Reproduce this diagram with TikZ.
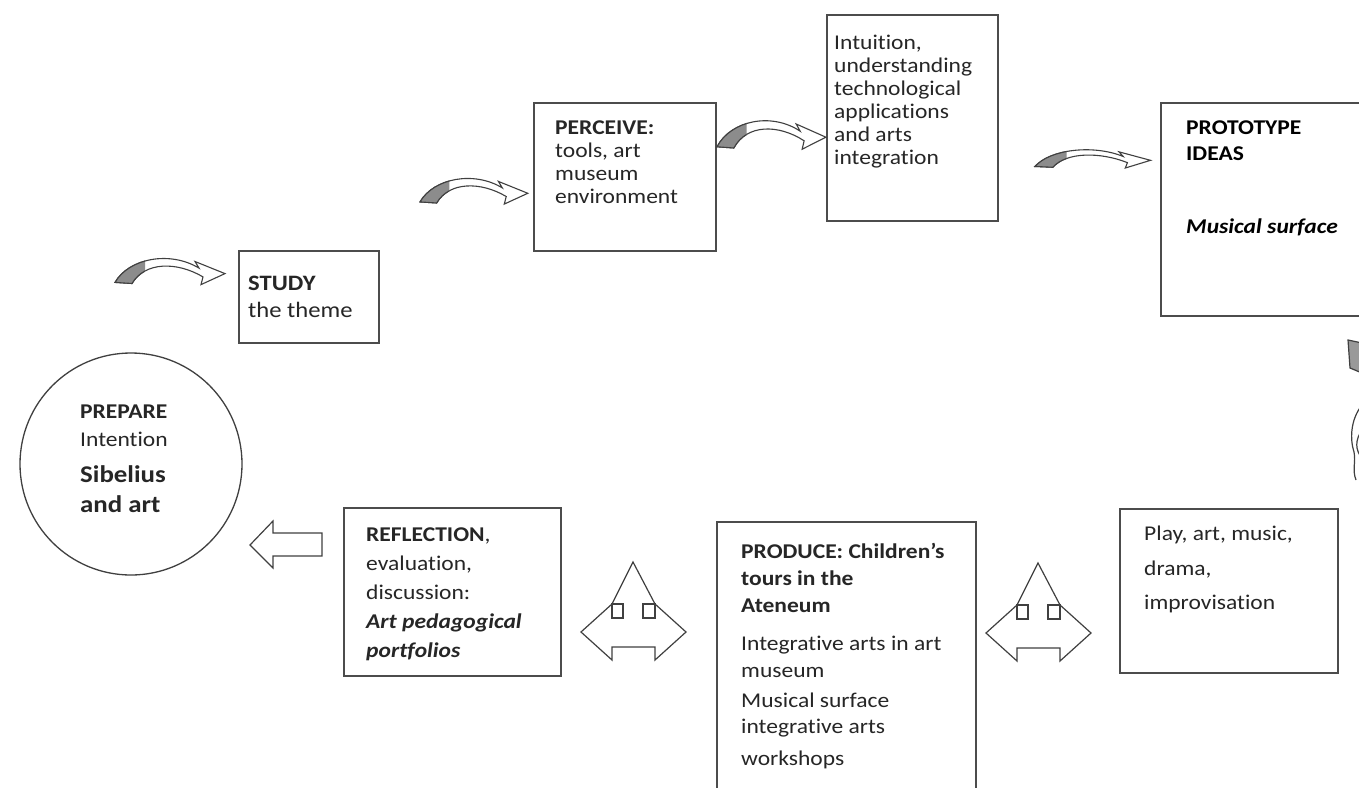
\documentclass[tikz,border=0pt]{standalone}
\usepackage{fontspec}
\setmainfont{Carlito}[FakeStretch=1.12, RawFeature={-liga}]
\begin{document}
\begin{tikzpicture}[x=1pt,y=-1pt,
  box/.style={draw=black!70, line width=1.5pt, inner sep=0pt, anchor=north west, fill=white},
  txt/.style={anchor=north west, inner sep=0pt, align=left, text=black!85},
  shp/.style={draw=black!75, line width=1.2pt, line join=miter},
  curvp/.style={insert path={(0,24) .. controls (14,2) and (55,-5) .. (84,11) -- (80,5) -- (110,16) -- (86,26) -- (88,19) .. controls (62,5) and (30,5) .. (17,25) -- cycle}},
  curv/.pic={
    \path[curvp, fill=white, draw=black!75, line width=1.1pt];
    \begin{scope}
      \clip (-3,-8) rectangle (30,30);
      \path[curvp, fill=black!45, draw=black!75, line width=1.1pt];
    \end{scope}
  },
  face/.pic={
    \draw[shp, fill=white] (0,0) -- (-21,42) -- (-52,70) -- (-21,98) -- (-21,85) -- (22,85) -- (22,98) -- (53,70) -- (22,42) -- cycle;
    \draw[shp] (-21,42) rectangle (-10,56) (10,42) rectangle (22,56);
  }]
\useasboundingbox (0,0) rectangle (1359,787);
\clip (0,0) rectangle (1359,787);
\fill[white] (0,0) rectangle (1359,787);

% boxes
\node[box, minimum width=140pt, minimum height=92pt] (study) at (238,250) {};
\node[txt, font=\fontsize{22}{27}\selectfont] (study-t) at (248,276) {\textbf{STUDY}\\the theme};

\node[box, minimum width=182pt, minimum height=148pt] (perceive) at (533,102) {};
\node[txt, font=\fontsize{21}{22.7}\selectfont] (perceive-t) at (555,121) {\textbf{PERCEIVE:}\\tools, art\\museum\\environment};

\node[box, minimum width=171pt, minimum height=206pt] (intuition) at (826,14) {};
\node[txt, font=\fontsize{21}{23}\selectfont] (intuition-t) at (834,35) {Intuition,\\understanding\\technological\\applications\\and arts\\integration};

\node[box, minimum width=220pt, minimum height=213pt] (prototype) at (1160,102) {};
\node[txt, font=\fontsize{21}{26}\selectfont, text=black] (prototype-t) at (1186,121) {\textbf{PROTOTYPE}\\\textbf{IDEAS}\\[47pt]\textbf{\textit{Musical surface}}};

\node[box, minimum width=218pt, minimum height=164pt] (play) at (1119,508) {};
\node[txt, font=\fontsize{21}{34.5}\selectfont] (play-t) at (1144,526) {Play, art, music,\\drama,\\improvisation};

\node[box, minimum width=259pt, minimum height=300pt] (produce) at (716,521) {};
\node[txt, font=\fontsize{21}{27}\selectfont] (produce-t) at (741,543) {\textbf{PRODUCE: Children's}\\\textbf{tours in the}\\\textbf{Ateneum}\\[11pt]Integrative arts in art\\museum\\[3pt]Musical surface\\[-1pt]integrative arts\\[5pt]workshops};

\node[box, minimum width=217pt, minimum height=168pt] (reflection) at (343,507) {};
\node[txt, font=\fontsize{21}{29}\selectfont] (reflection-t) at (366,528) {\textbf{REFLECTION},\\evaluation,\\discussion:\\\textbf{\textit{Art pedagogical}}\\\textbf{\textit{portfolios}}};

\node[draw=black!75, line width=1.3pt, circle, minimum size=222pt, inner sep=0pt] (prepare) at (131,464) {};
\node[txt, font=\fontsize{21}{28}\selectfont] (prepare-t) at (80,405) {\textbf{PREPARE}\\Intention\\[8pt]{\fontsize{24}{28}\selectfont\textbf{Sibelius}}\\[2pt]{\fontsize{24}{28}\selectfont\textbf{and art}}};

% curved arrows
\pic[xscale=1, yscale=1.1] at (115,256) {curv};
\pic[xscale=0.98, yscale=1.08] at (420,176) {curv};
\pic[xscale=0.99, yscale=1.2] at (717,118) {curv};
\pic[xscale=1.05, yscale=0.77] at (1035,148) {curv};

% face-shaped double arrows
\pic at (633,562) {face};
\pic at (1038,563) {face};

% hollow left arrow
\draw[shp, fill=white] (250,545) -- (273,521) -- (273,533) -- (322,533) -- (322,556) -- (273,556) -- (273,568) -- cycle;

% partial shapes at right edge
\draw[shp, fill=black!40] (1348,340) -- (1362,343) -- (1362,373) -- (1350,368) -- cycle;
\draw[shp] (1362,405) .. controls (1350,420) and (1350,440) .. (1354,452) .. controls (1356,462) and (1352,470) .. (1356,480);
\draw[shp] (1362,430) .. controls (1355,440) and (1355,450) .. (1362,458);
\end{tikzpicture}
\end{document}
